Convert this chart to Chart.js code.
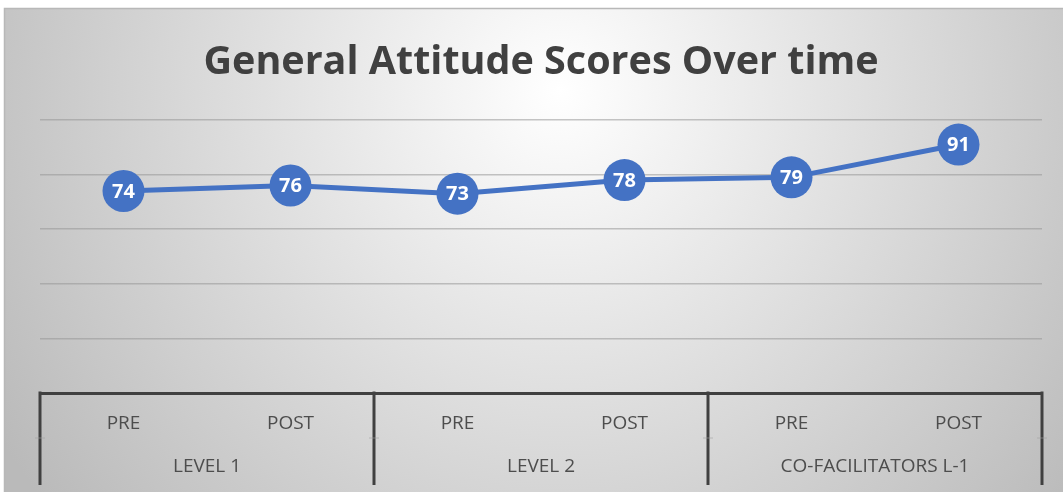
<!DOCTYPE html>
<html>
<head>
<meta charset="utf-8">
<script src="https://cdn.jsdelivr.net/npm/chart.js@4"></script>
<style>
  html, body { margin: 0; padding: 0; background: #fff; }
  #wrap { width: 1063px; height: 492px; }
</style>
</head>
<body>
<div id="wrap"><canvas id="myChart" width="1063" height="492"></canvas></div>
<script>
"use strict"

// data
const categories = ['PRE', 'POST', 'PRE', 'POST', 'PRE', 'POST'];
const groups = ['LEVEL 1', 'LEVEL 2', 'CO-FACILITATORS L-1'];
const scores = [74, 76, 73, 78, 79, 91];
const yMin = 0;
const yMax = 100;
const yStep = 20;

const blue = '#4472C4';
const textGrey = '#4d4d4d';
const darkLine = '#404040';
const fontFamily = '"Open Sans", "Liberation Sans", sans-serif';

// gradient background like the office chart area
const backgroundPlugin = {
    id: 'bg',
    beforeDraw(chart) {
        const ctx = chart.ctx;
        ctx.save();
        ctx.fillStyle = '#ffffff';
        ctx.fillRect(0, 0, chart.width, chart.height);
        const g = ctx.createRadialGradient(560, 90, 0, 560, 90, 660);
        g.addColorStop(0, '#ffffff');
        g.addColorStop(1, '#bababa');
        ctx.fillStyle = g;
        ctx.fillRect(5, 8, chart.width - 5, chart.height - 8);
        ctx.strokeStyle = '#b8b8b8';
        ctx.lineWidth = 1.5;
        ctx.beginPath();
        ctx.moveTo(4.5, chart.height);
        ctx.lineTo(4.5, 8.5);
        ctx.lineTo(chart.width, 8.5);
        ctx.stroke();
        ctx.restore();
    }
};

// group labels + separators under the PRE/POST row
const groupAxisPlugin = {
    id: 'groupAxis',
    afterDraw(chart) {
        const ctx = chart.ctx;
        const x = chart.scales.x;
        const area = chart.chartArea;
        const per = categories.length / groups.length;
        const step = x.getPixelForValue(1) - x.getPixelForValue(0);
        const bottom = x.bottom;
        ctx.save();
        for (let k = 0; k <= groups.length; k++) {
            const px = x.getPixelForValue(k * per) - step / 2;
            ctx.strokeStyle = darkLine;
            ctx.lineWidth = 3;
            ctx.beginPath();
            ctx.moveTo(px, area.bottom - 1.5);
            ctx.lineTo(px, bottom);
            ctx.stroke();
            // faint row marks
            ctx.strokeStyle = 'rgba(160,160,160,0.6)';
            ctx.lineWidth = 1;
            ctx.beginPath();
            ctx.moveTo(px - 5, area.bottom + 45);
            ctx.lineTo(px + 5, area.bottom + 45);
            ctx.stroke();
        }
        ctx.fillStyle = textGrey;
        ctx.font = '19px ' + fontFamily;
        ctx.textAlign = 'center';
        ctx.textBaseline = 'middle';
        groups.forEach((g, i) => {
            const a = x.getPixelForValue(i * per);
            const b = x.getPixelForValue(i * per + per - 1);
            ctx.fillText(g, (a + b) / 2, area.bottom + 74);
        });
        ctx.restore();
    }
};

// values inside the markers
const valueLabelPlugin = {
    id: 'valueLabels',
    afterDatasetsDraw(chart) {
        const ctx = chart.ctx;
        const meta = chart.getDatasetMeta(0);
        ctx.save();
        ctx.fillStyle = '#ffffff';
        ctx.font = 'bold 20px ' + fontFamily;
        ctx.textAlign = 'center';
        ctx.textBaseline = 'middle';
        meta.data.forEach((pt, i) => {
            ctx.fillText(String(scores[i]), pt.x, pt.y + 1);
        });
        ctx.restore();
    }
};

let myLineChart = document.getElementById('myChart');

let theChart = new Chart(myLineChart, {
    type: 'line',
    data: {
        labels: categories,
        datasets: [{
            data: scores,
            borderColor: blue,
            backgroundColor: blue,
            borderWidth: 5,
            pointRadius: 21,
            pointHoverRadius: 21,
            pointBackgroundColor: blue,
            pointBorderWidth: 0,
            tension: 0,
            clip: false,
        }]
    },
    options: {
        responsive: false,
        animation: false,
        layout: {
            padding: { left: 40, right: 21, top: 8, bottom: 7 }
        },
        scales: {
            x: {
                offset: true,
                grid: { display: false, drawTicks: false },
                border: { display: true, color: darkLine, width: 3 },
                ticks: {
                    color: textGrey,
                    font: { family: fontFamily, size: 19 },
                    padding: 19,
                    maxRotation: 0,
                    autoSkip: false,
                },
                afterFit(scale) {
                    scale.height = 92;
                }
            },
            y: {
                min: yMin,
                max: yMax,
                ticks: { stepSize: yStep, display: false },
                grid: {
                    drawTicks: false,
                    lineWidth: 1.5,
                    color: (c) => c.tick.value === yMin ? 'rgba(0,0,0,0)' : 'rgba(150,150,150,0.55)',
                },
                border: { display: false },
                afterFit(scale) {
                    scale.width = 0;
                }
            }
        },
        plugins: {
            legend: { display: false },
            tooltip: { enabled: false },
            title: {
                display: true,
                text: 'General Attitude Scores Over time',
                color: darkLine,
                font: { family: fontFamily, size: 39.5, weight: 'bold', lineHeight: 1.2 },
                padding: { top: 31, bottom: 33.6 },
            }
        }
    },
    plugins: [backgroundPlugin, groupAxisPlugin, valueLabelPlugin]
});
</script>
</body>
</html>
